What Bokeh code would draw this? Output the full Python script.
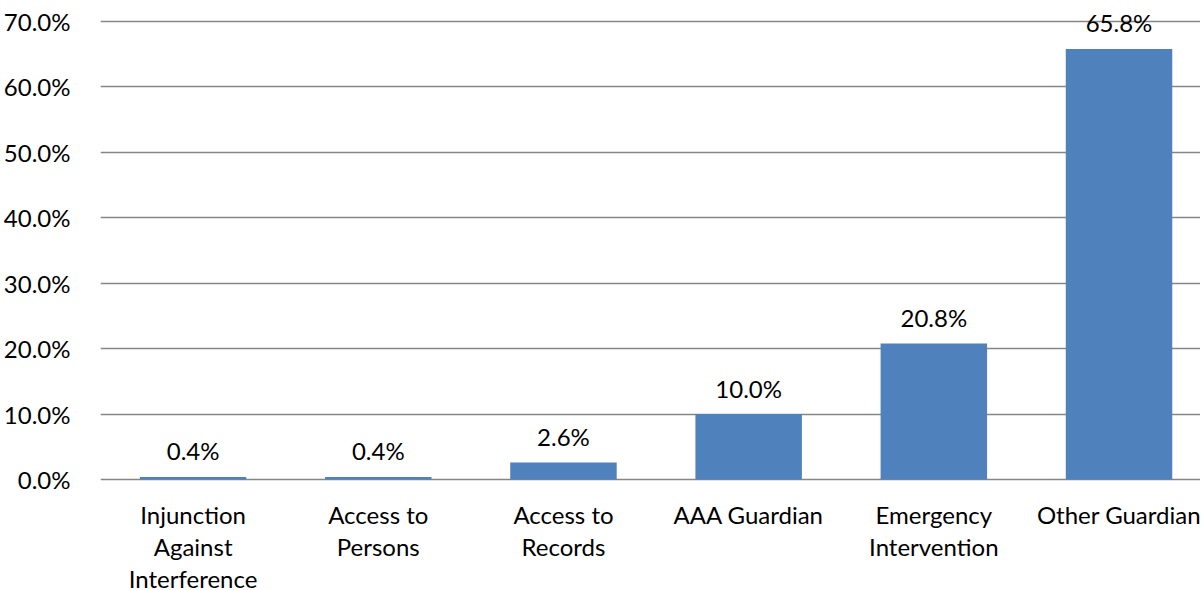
from bokeh.plotting import figure
from bokeh.models import Range1d, FixedTicker, ColumnDataSource, LabelSet
from bokeh.core.properties import value
from bokeh.embed import file_html
from bokeh.resources import INLINE

categories = ["Injunction\nAgainst\nInterference", "Access to\nPersons", "Access to\nRecords",
              "AAA Guardian", "Emergency\nIntervention", "Other Guardian"]
values = [0.4, 0.4, 2.6, 10.0, 20.8, 65.8]
y_ticks = [0, 10, 20, 30, 40, 50, 60, 70]

FONT = "Lato"
FS = "24px"
xs = [i + 0.5 for i in range(len(categories))]
labels = [f"{v:.1f}%" for v in values]
src = ColumnDataSource(dict(x=xs, top=values, label=labels))

p = figure(width=1200, height=589, output_backend="svg", toolbar_location=None,
           x_range=Range1d(0, 5.94), y_range=Range1d(-16.8, 73.05),
           min_border_left=100, min_border_right=0, min_border_top=1, min_border_bottom=0)
p.outline_line_color = None

p.vbar(x="x", top="top", width=0.575, bottom=0, source=src, fill_color="#4F81BD", line_color=None)

lbl = LabelSet(x="x", y="top", text="label", source=src, text_align="center", text_baseline="middle",
               y_offset=26, text_font=value(FONT), text_font_size=FS, text_color="#000000")
p.add_layout(lbl)

# category labels, one LabelSet per text line so every line is centred
split = [c.split("\n") for c in categories]
n_lines = max(len(s) for s in split)
for k in range(n_lines):
    lx, lt = [], []
    for x, parts in zip(xs, split):
        if k < len(parts):
            lx.append(x)
            lt.append(parts[k])
    lsrc = ColumnDataSource(dict(x=lx, y=[0] * len(lx), t=lt))
    p.add_layout(LabelSet(x="x", y="y", text="t", source=lsrc, text_align="center",
                          text_baseline="middle", y_offset=-35 - 32 * k,
                          text_font=value(FONT), text_font_size=FS, text_color="#000000"))

p.xaxis.visible = False

p.yaxis.ticker = FixedTicker(ticks=y_ticks)
p.yaxis.major_label_overrides = {t: f"{t:.1f}%" for t in y_ticks}
p.yaxis.axis_line_color = None
p.yaxis.major_tick_line_color = None
p.yaxis.minor_tick_line_color = None
p.yaxis.major_label_text_font = FONT
p.yaxis.major_label_text_font_size = FS
p.yaxis.major_label_text_color = "#000000"
p.yaxis.major_label_standoff = 24

p.xgrid.grid_line_color = None
p.ygrid.grid_line_color = "#868686"
p.ygrid.grid_line_width = 1.5

open("out.html", "w").write(file_html(p, INLINE))
